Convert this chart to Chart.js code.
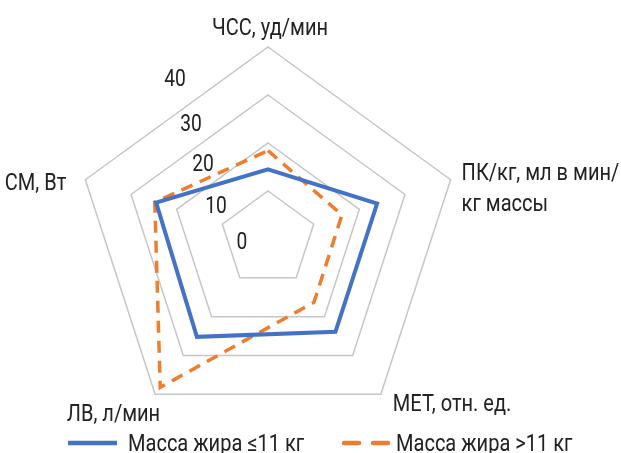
<!DOCTYPE html>
<html>
<head>
<meta charset="utf-8">
<script src="https://cdn.jsdelivr.net/npm/chart.js@4.4.1/dist/chart.umd.min.js"></script>
<style>
  html, body { margin: 0; padding: 0; background: #ffffff; }
  #wrap { width: 621px; height: 453px; position: relative; }
</style>
</head>
<body>
<div id="wrap"><canvas id="c"></canvas></div>
<script>
// ---- data ----
const categories = [
  ["ЧСС, уд/мин"],
  ["ПК/кг, мл в мин/", "кг массы"],
  ["МЕТ, отн. ед."],
  ["ЛВ, л/мин"],
  ["СМ, Вт"]
];
const seriesNames = ["Масса жира ≤11 кг", "Масса жира >11 кг"];
const lowFat = [14.5, 23.9, 23.9, 25.2, 24.5];
const highFat = [18.4, 16.2, 16.3, 38.2, 24.8];
const tickValues = [0, 10, 20, 30, 40];

// ---- style ----
const FONT = "Roboto, 'DejaVu Sans', sans-serif";
const FONT_SIZE = 24;
const TEXT_COLOR = "#222222";
const BLUE = "#4472C4";
const ORANGE = "#ED7D31";
const REF_TEXT_WIDTH = 116; // width of the top label in the reference, used to condense the font
// label anchors relative to the outer ring vertex of each spoke
const labelStyle = [
  { align: "center", dx: 2,   dy: -12 },
  { align: "left",   dx: 11,  dy: 0 },
  { align: "left",   dx: 12,  dy: 17 },
  { align: "right",  dx: 5,   dy: 27 },
  { align: "right",  dx: -19, dy: 10 }
];
const LINE_H = 31;
// tick label offsets relative to the ring's top point
const tickOffsets = [
  { dx: -26, dy: 4 },
  { dx: -52, dy: 16 },
  { dx: -65, dy: 22 },
  { dx: -77, dy: 30 },
  { dx: -93, dy: 33 }
];

function condensedText(ctx, text, x, y, align, f) {
  ctx.save();
  ctx.translate(x, y);
  ctx.scale(f, 1);
  ctx.textAlign = align;
  ctx.fillText(text, 0, 0);
  ctx.restore();
}

const labelsPlugin = {
  id: "customLabels",
  afterDraw(chart) {
    const ctx = chart.ctx;
    const scale = chart.scales.r;
    ctx.save();
    ctx.fillStyle = TEXT_COLOR;
    ctx.font = FONT_SIZE + "px " + FONT;
    const f = REF_TEXT_WIDTH / ctx.measureText(categories[0][0]).width;
    // point labels
    ctx.textBaseline = "alphabetic";
    categories.forEach((lines, i) => {
      const p = scale.getPointPosition(i, scale.drawingArea);
      const st = labelStyle[i];
      lines.forEach((t, k) => {
        condensedText(ctx, t, p.x + st.dx, p.y + st.dy + k * LINE_H, st.align, f);
      });
    });
    // tick labels
    ctx.font = (FONT_SIZE - 1) + "px " + FONT;
    ctx.textBaseline = "middle";
    tickValues.forEach((v, i) => {
      const p = scale.getPointPositionForValue(0, v);
      condensedText(ctx, String(v), p.x + tickOffsets[i].dx, p.y + tickOffsets[i].dy, "center", f);
    });
    // legend
    ctx.font = FONT_SIZE + "px " + FONT;
    ctx.textBaseline = "alphabetic";
    const ly = 443, tb = 451;
    const legendItems = [
      { x0: 68, x1: 117, tx: 128, dash: [] },
      { x0: 344, x1: 388, tx: 396, dash: [15, 14] }
    ];
    chart.data.datasets.forEach((ds, i) => {
      const it = legendItems[i];
      ctx.save();
      ctx.strokeStyle = ds.borderColor;
      ctx.lineWidth = 4.5;
      ctx.lineCap = i === 0 ? "butt" : "round";
      ctx.setLineDash(it.dash);
      ctx.beginPath();
      ctx.moveTo(it.x0, ly);
      ctx.lineTo(it.x1, ly);
      ctx.stroke();
      ctx.restore();
      condensedText(ctx, ds.label, it.tx, tb, "left", f);
    });
    ctx.restore();
  }
};

new Chart(document.getElementById("c"), {
  type: "radar",
  data: {
    labels: categories.map(l => l.join(" ")),
    datasets: [
      {
        label: seriesNames[0],
        data: lowFat,
        borderColor: BLUE,
        backgroundColor: "rgba(0,0,0,0)",
        borderWidth: 4,
        fill: false,
        pointRadius: 0,
        pointHoverRadius: 0,
        tension: 0,
        borderJoinStyle: "miter"
      },
      {
        label: seriesNames[1],
        data: highFat,
        borderColor: ORANGE,
        backgroundColor: "rgba(0,0,0,0)",
        borderWidth: 3.5,
        borderDash: [12, 8],
        fill: false,
        pointRadius: 0,
        pointHoverRadius: 0,
        tension: 0,
        borderJoinStyle: "miter"
      }
    ]
  },
  options: {
    responsive: true,
    maintainAspectRatio: false,
    animation: false,
    devicePixelRatio: 1,
    layout: { padding: { left: 76, right: 161, top: 47, bottom: 22 } },
    plugins: {
      legend: { display: false },
      tooltip: { enabled: false }
    },
    scales: {
      r: {
        min: 0,
        max: 40,
        ticks: { stepSize: 10, display: false },
        pointLabels: { display: false },
        angleLines: { display: false },
        grid: { color: "#c6c6c6", lineWidth: 1.5 }
      }
    }
  },
  plugins: [labelsPlugin]
});
</script>
</body>
</html>
